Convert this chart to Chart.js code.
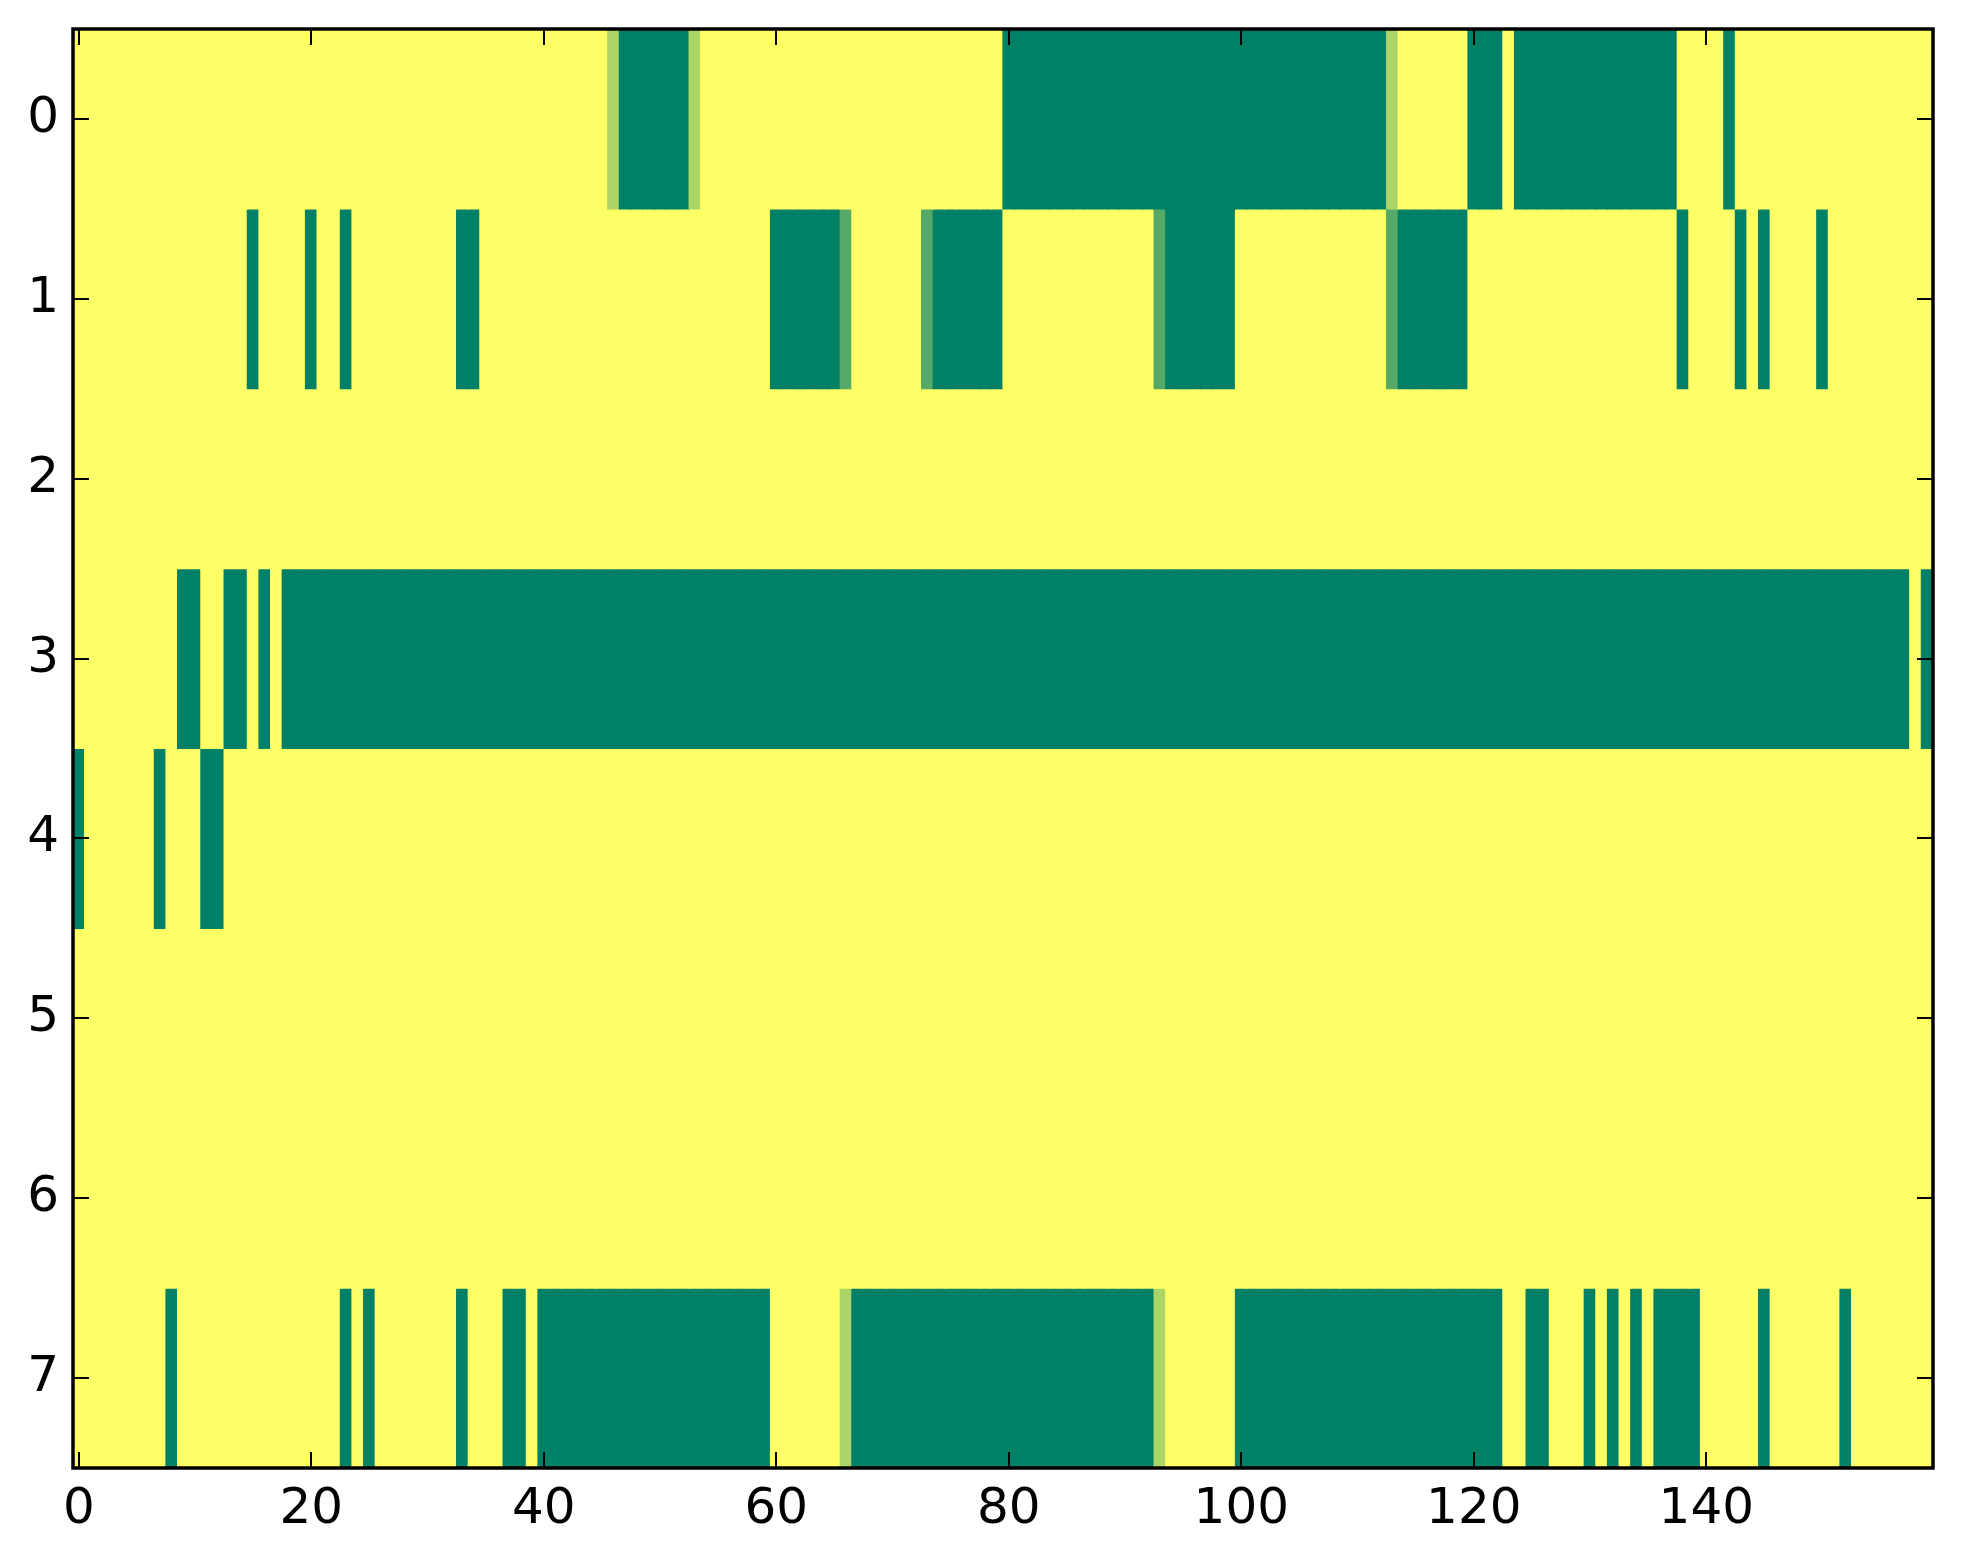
<!DOCTYPE html>
<html>
<head>
<meta charset="utf-8">
<script src="https://cdn.jsdelivr.net/npm/chart.js@4/dist/chart.umd.min.js"></script>
<style>
  html, body { margin: 0; padding: 0; background: #fff; }
  canvas { display: block; }
</style>
</head>
<body>
<canvas id="heat" width="1963" height="1564"></canvas>
<script>
// one row of the image per array, 160 columns each (1 = yellow, 0 = green)
const row0 = [
  1,1,1,1,1,1,1,1,1,1,1,1,1,1,1,1,1,1,1,1,
  1,1,1,1,1,1,1,1,1,1,1,1,1,1,1,1,1,1,1,1,
  1,1,1,1,1,1,0.67,0,0,0,0,0,0,0.67,1,1,1,1,1,1,
  1,1,1,1,1,1,1,1,1,1,1,1,1,1,1,1,1,1,1,1,
  0,0,0,0,0,0,0,0,0,0,0,0,0,0,0,0,0,0,0,0,
  0,0,0,0,0,0,0,0,0,0,0,0,0,0.67,1,1,1,1,1,1,
  0,0,0,1,0,0,0,0,0,0,0,0,0,0,0,0,0,0,1,1,
  1,1,0,1,1,1,1,1,1,1,1,1,1,1,1,1,1,1,1,1
];
const row1 = [
  1,1,1,1,1,1,1,1,1,1,1,1,1,1,1,0,1,1,1,1,
  0,1,1,0,1,1,1,1,1,1,1,1,1,0,0,1,1,1,1,1,
  1,1,1,1,1,1,1,1,1,1,1,1,1,1,1,1,1,1,1,1,
  0,0,0,0,0,0,0.33,1,1,1,1,1,1,0.33,0,0,0,0,0,0,
  1,1,1,1,1,1,1,1,1,1,1,1,1,0.33,0,0,0,0,0,0,
  1,1,1,1,1,1,1,1,1,1,1,1,1,0.33,0,0,0,0,0,0,
  1,1,1,1,1,1,1,1,1,1,1,1,1,1,1,1,1,1,0,1,
  1,1,1,0,1,0,1,1,1,1,0,1,1,1,1,1,1,1,1,1
];
const row2 = [
  1,1,1,1,1,1,1,1,1,1,1,1,1,1,1,1,1,1,1,1,
  1,1,1,1,1,1,1,1,1,1,1,1,1,1,1,1,1,1,1,1,
  1,1,1,1,1,1,1,1,1,1,1,1,1,1,1,1,1,1,1,1,
  1,1,1,1,1,1,1,1,1,1,1,1,1,1,1,1,1,1,1,1,
  1,1,1,1,1,1,1,1,1,1,1,1,1,1,1,1,1,1,1,1,
  1,1,1,1,1,1,1,1,1,1,1,1,1,1,1,1,1,1,1,1,
  1,1,1,1,1,1,1,1,1,1,1,1,1,1,1,1,1,1,1,1,
  1,1,1,1,1,1,1,1,1,1,1,1,1,1,1,1,1,1,1,1
];
const row3 = [
  1,1,1,1,1,1,1,1,1,0,0,1,1,0,0,1,0,1,0,0,
  0,0,0,0,0,0,0,0,0,0,0,0,0,0,0,0,0,0,0,0,
  0,0,0,0,0,0,0,0,0,0,0,0,0,0,0,0,0,0,0,0,
  0,0,0,0,0,0,0,0,0,0,0,0,0,0,0,0,0,0,0,0,
  0,0,0,0,0,0,0,0,0,0,0,0,0,0,0,0,0,0,0,0,
  0,0,0,0,0,0,0,0,0,0,0,0,0,0,0,0,0,0,0,0,
  0,0,0,0,0,0,0,0,0,0,0,0,0,0,0,0,0,0,0,0,
  0,0,0,0,0,0,0,0,0,0,0,0,0,0,0,0,0,0,1,0
];
const row4 = [
  0,1,1,1,1,1,1,0,1,1,1,0,0,1,1,1,1,1,1,1,
  1,1,1,1,1,1,1,1,1,1,1,1,1,1,1,1,1,1,1,1,
  1,1,1,1,1,1,1,1,1,1,1,1,1,1,1,1,1,1,1,1,
  1,1,1,1,1,1,1,1,1,1,1,1,1,1,1,1,1,1,1,1,
  1,1,1,1,1,1,1,1,1,1,1,1,1,1,1,1,1,1,1,1,
  1,1,1,1,1,1,1,1,1,1,1,1,1,1,1,1,1,1,1,1,
  1,1,1,1,1,1,1,1,1,1,1,1,1,1,1,1,1,1,1,1,
  1,1,1,1,1,1,1,1,1,1,1,1,1,1,1,1,1,1,1,1
];
const row5 = [
  1,1,1,1,1,1,1,1,1,1,1,1,1,1,1,1,1,1,1,1,
  1,1,1,1,1,1,1,1,1,1,1,1,1,1,1,1,1,1,1,1,
  1,1,1,1,1,1,1,1,1,1,1,1,1,1,1,1,1,1,1,1,
  1,1,1,1,1,1,1,1,1,1,1,1,1,1,1,1,1,1,1,1,
  1,1,1,1,1,1,1,1,1,1,1,1,1,1,1,1,1,1,1,1,
  1,1,1,1,1,1,1,1,1,1,1,1,1,1,1,1,1,1,1,1,
  1,1,1,1,1,1,1,1,1,1,1,1,1,1,1,1,1,1,1,1,
  1,1,1,1,1,1,1,1,1,1,1,1,1,1,1,1,1,1,1,1
];
const row6 = [
  1,1,1,1,1,1,1,1,1,1,1,1,1,1,1,1,1,1,1,1,
  1,1,1,1,1,1,1,1,1,1,1,1,1,1,1,1,1,1,1,1,
  1,1,1,1,1,1,1,1,1,1,1,1,1,1,1,1,1,1,1,1,
  1,1,1,1,1,1,1,1,1,1,1,1,1,1,1,1,1,1,1,1,
  1,1,1,1,1,1,1,1,1,1,1,1,1,1,1,1,1,1,1,1,
  1,1,1,1,1,1,1,1,1,1,1,1,1,1,1,1,1,1,1,1,
  1,1,1,1,1,1,1,1,1,1,1,1,1,1,1,1,1,1,1,1,
  1,1,1,1,1,1,1,1,1,1,1,1,1,1,1,1,1,1,1,1
];
const row7 = [
  1,1,1,1,1,1,1,1,0,1,1,1,1,1,1,1,1,1,1,1,
  1,1,1,0,1,0,1,1,1,1,1,1,1,0,1,1,1,0,0,1,
  0,0,0,0,0,0,0,0,0,0,0,0,0,0,0,0,0,0,0,0,
  1,1,1,1,1,1,0.67,0,0,0,0,0,0,0,0,0,0,0,0,0,
  0,0,0,0,0,0,0,0,0,0,0,0,0,0.67,1,1,1,1,1,1,
  0,0,0,0,0,0,0,0,0,0,0,0,0,0,0,0,0,0,0,0,
  0,0,0,1,1,0,0,1,1,1,0,1,0,1,0,1,0,0,0,0,
  1,1,1,1,1,0,1,1,1,1,1,1,0,1,1,1,1,1,1,1
];

const rows = [row0, row1, row2, row3, row4, row5, row6, row7];
const xTicks = [0, 20, 40, 60, 80, 100, 120, 140];
const yTicks = [0, 1, 2, 3, 4, 5, 6, 7];

// matplotlib "summer" colormap
const summer = (v) => {
    const r = Math.round(255 * v);
    const g = Math.round(255 * (0.5 + 0.5 * v));
    const b = Math.round(255 * 0.4);
    return `rgb(${r},${g},${b})`;
};

const datasets = rows.map((vals, r) => ({
    data: vals.map((v, i) => ({ x: i, y: [r - 0.5, r + 0.5] })),
    backgroundColor: vals.map(summer),
    borderWidth: 0,
    inflateAmount: 0.6,
    barPercentage: 1,
    categoryPercentage: 1,
    grouped: false
}));

// black frame + inward ticks on all four sides, like matplotlib classic
const framePlugin = {
    id: 'frame',
    afterDraw(chart) {
        const { ctx, chartArea: a, scales } = chart;
        const len = 16;
        ctx.save();
        ctx.strokeStyle = '#000';
        ctx.lineWidth = 2;
        ctx.beginPath();
        xTicks.forEach(t => {
            const px = Math.round(scales.x.getPixelForValue(t));
            ctx.moveTo(px, a.bottom); ctx.lineTo(px, a.bottom - len);
            ctx.moveTo(px, a.top); ctx.lineTo(px, a.top + len);
        });
        yTicks.forEach(t => {
            const py = Math.round(scales.y.getPixelForValue(t));
            ctx.moveTo(a.left, py); ctx.lineTo(a.left + len, py);
            ctx.moveTo(a.right, py); ctx.lineTo(a.right - len, py);
        });
        ctx.stroke();
        ctx.lineWidth = 3.5;
        ctx.strokeRect(a.left, a.top, a.right - a.left, a.bottom - a.top);
        ctx.restore();
    }
};

const tickFont = { family: 'DejaVu Sans', size: 50 };

new Chart(document.getElementById('heat'), {
    type: 'bar',
    data: { datasets },
    options: {
        responsive: false,
        devicePixelRatio: 1,
        animation: false,
        layout: { padding: { left: 0, top: 29, right: 30, bottom: 0 } },
        plugins: { legend: { display: false }, tooltip: { enabled: false } },
        scales: {
            x: {
                type: 'linear',
                min: -0.5,
                max: 159.5,
                offset: false,
                grid: { display: false, drawTicks: false },
                border: { display: false },
                ticks: {
                    autoSkip: false,
                    maxRotation: 0,
                    color: '#000',
                    font: tickFont,
                    padding: 12
                },
                afterBuildTicks: (s) => { s.ticks = xTicks.map(v => ({ value: v })); },
                afterFit: (s) => { s.height = 96; s.paddingLeft = 0; s.paddingRight = 0; }
            },
            y: {
                type: 'linear',
                reverse: true,
                min: -0.5,
                max: 7.5,
                offset: false,
                grid: { display: false, drawTicks: false },
                border: { display: false },
                ticks: {
                    color: '#000',
                    font: tickFont,
                    padding: 14
                },
                afterBuildTicks: (s) => { s.ticks = yTicks.map(v => ({ value: v })); },
                afterFit: (s) => { s.width = 73; s.paddingTop = 0; s.paddingBottom = 0; }
            }
        }
    },
    plugins: [framePlugin]
});
</script>
</body>
</html>
